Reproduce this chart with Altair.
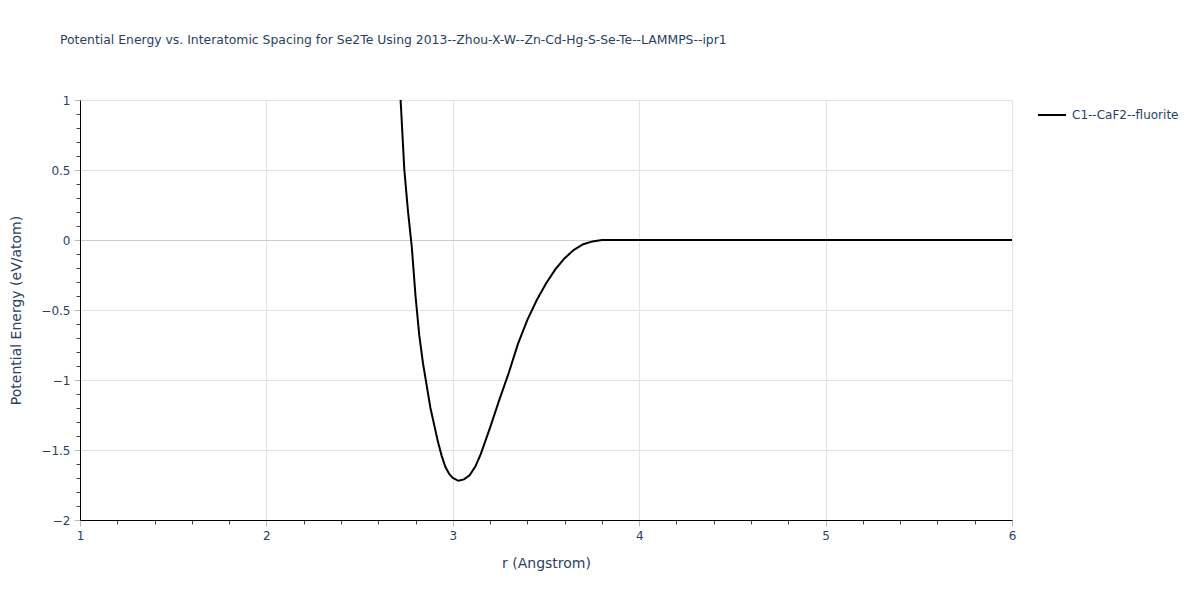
import altair as alt
import pandas as pd

# Data
series_name = "C1--CaF2--fluorite"
r_vals = [2.70, 2.72, 2.74, 2.76, 2.78, 2.80, 2.82, 2.84, 2.86, 2.88, 2.90, 2.92,
          2.94, 2.96, 2.98, 3.00, 3.03, 3.06, 3.09, 3.12, 3.15, 3.20, 3.25, 3.30,
          3.35, 3.40, 3.45, 3.50, 3.55, 3.60, 3.65, 3.70, 3.75, 3.80, 3.90, 4.00,
          4.25, 4.50, 4.75, 5.00, 5.25, 5.50, 5.75, 6.00]
energy = [1.25, 1.00, 0.50, 0.20, -0.05, -0.40, -0.68, -0.88, -1.04, -1.20, -1.32, -1.44,
          -1.54, -1.62, -1.67, -1.70, -1.72, -1.71, -1.68, -1.62, -1.53, -1.34, -1.14, -0.95,
          -0.74, -0.57, -0.43, -0.31, -0.21, -0.13, -0.07, -0.03, -0.01, 0.0, 0.0, 0.0,
          0.0, 0.0, 0.0, 0.0, 0.0, 0.0, 0.0, 0.0]

x_tick_values = [round(1 + 0.2 * i, 1) for i in range(26)]   # major at integers
y_tick_values = [round(-2 + 0.1 * i, 1) for i in range(31)]  # major every 0.5

df = pd.DataFrame({"r": r_vals, "E": energy, "series": series_name})

TXT = "#2a3f5f"
FONT = "DejaVu Sans"

x_major = "abs(datum.value - round(datum.value)) < 1e-6"
y_major = "abs(datum.value * 2 - round(datum.value * 2)) < 1e-6"

x_axis = alt.Axis(
    values=x_tick_values,
    format="~g",
    labelExpr=f"({x_major}) ? datum.label : ''",
    title="r (Angstrom)",
    titleFont=FONT, titleFontSize=14, titleFontWeight="normal", titleColor=TXT,
    titlePadding=15,
    labelFont=FONT, labelFontSize=12, labelColor=TXT, labelPadding=4,
    domainColor="black", domainWidth=1,
    tickColor={"condition": {"test": x_major, "value": "#bbbbbb"}, "value": "#444444"},
    tickSize={"condition": {"test": x_major, "value": 6}, "value": 4},
    tickWidth=1,
    grid=True,
    gridColor="#e2e2e2",
    gridOpacity={"condition": {"test": x_major, "value": 1}, "value": 0},
    labelFlush=False,
)

y_axis = alt.Axis(
    values=y_tick_values,
    format="~g",
    labelExpr=f"({y_major}) ? datum.label : ''",
    title="Potential Energy (eV/atom)",
    titleFont=FONT, titleFontSize=14, titleFontWeight="normal", titleColor=TXT,
    titlePadding=17,
    labelFont=FONT, labelFontSize=12, labelColor=TXT, labelPadding=4,
    domainColor="black", domainWidth=1,
    tickColor={"condition": {"test": y_major, "value": "#bbbbbb"}, "value": "#444444"},
    tickSize={"condition": {"test": y_major, "value": 6}, "value": 4},
    tickWidth=1,
    grid=True,
    gridColor={"condition": {"test": "abs(datum.value) < 1e-9", "value": "#cccccc"}, "value": "#e2e2e2"},
    gridOpacity={"condition": {"test": y_major, "value": 1}, "value": 0},
    labelFlush=False,
)

chart = alt.Chart(df).mark_line(color="black", strokeWidth=2, clip=True).encode(
    x=alt.X("r:Q", scale=alt.Scale(domain=[1, 6], nice=False, zero=False), axis=x_axis),
    y=alt.Y("E:Q", scale=alt.Scale(domain=[-2, 1], nice=False, zero=False), axis=y_axis),
    color=alt.Color(
        "series:N",
        scale=alt.Scale(domain=[series_name], range=["black"]),
        legend=alt.Legend(
            title=None, orient="none", legendX=957, legendY=0,
            symbolType="stroke", symbolSize=784, symbolStrokeWidth=2,
            labelFont=FONT, labelFontSize=12, labelColor=TXT,
            labelOffset=5, padding=0,
        ),
    ),
    order=alt.Order("r:Q"),
).properties(
    width=932,
    height=420,
    title=alt.TitleParams(
        "Potential Energy vs. Interatomic Spacing for Se2Te Using 2013--Zhou-X-W--Zn-Cd-Hg-S-Se-Te--LAMMPS--ipr1",
        anchor="start", frame="group", dx=-20, offset=48, font=FONT, fontSize=12.4,
        fontWeight="normal", color=TXT,
    ),
    autosize=alt.AutoSizeParams(type="none"),
    padding={"left": 72, "top": 92, "right": 180, "bottom": 72},
).configure_view(stroke=None).configure(background="white")

chart.save("out.html", embed_options={"renderer": "svg", "actions": False})
